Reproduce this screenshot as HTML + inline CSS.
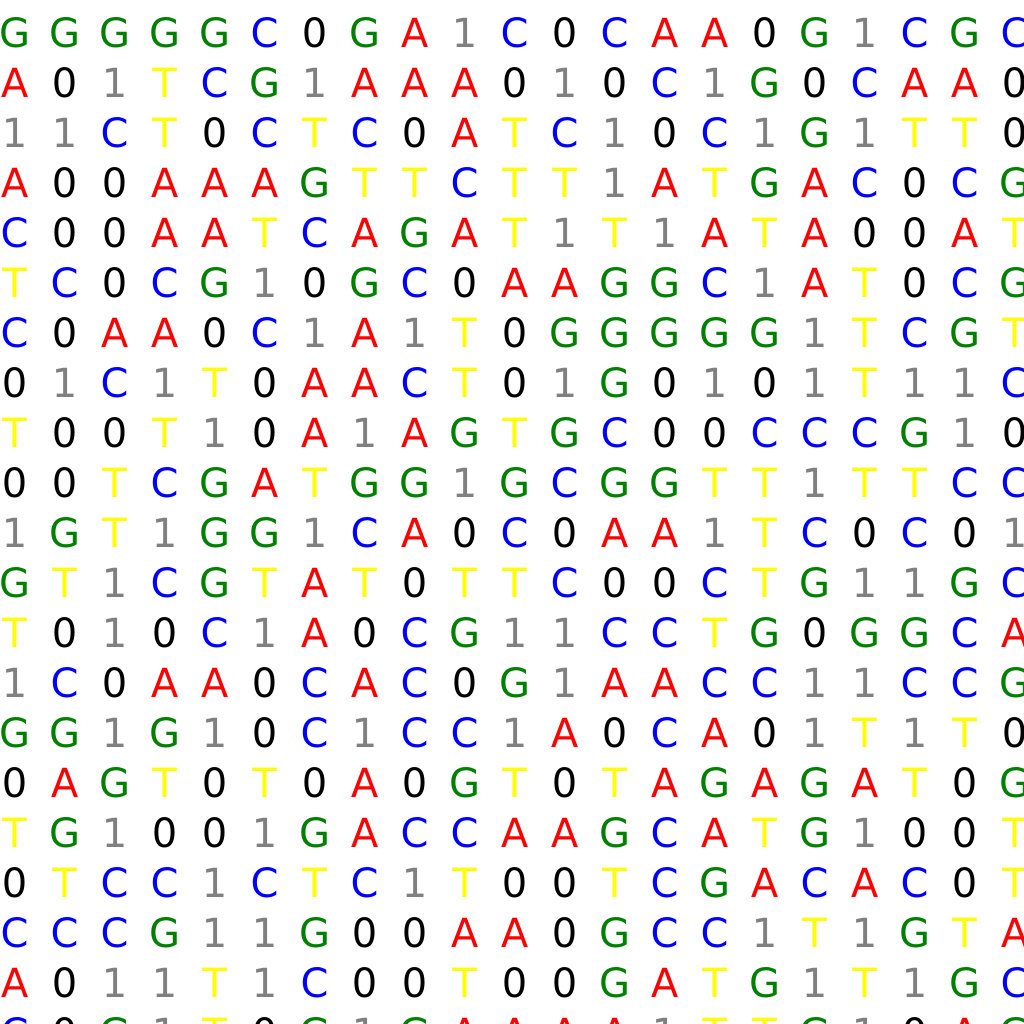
<!DOCTYPE html>
<html><head><meta charset="utf-8"><style>
html,body{margin:0;padding:0;background:#fff;width:1024px;height:1024px;overflow:hidden}
svg text{font-family:"DejaVu Sans","Liberation Sans",sans-serif;font-size:40px}
</style></head><body>
<svg id="grid" width="1024" height="1024" viewBox="0 0 1024 1024" xmlns="http://www.w3.org/2000/svg"></svg>
<script>
const rows = [
"GGGGGC0GA1C0CAA0G1CGC",
"A01TCG1AAA010C1G0CAA0",
"11CT0CTC0ATC10C1G1TT0",
"A00AAAGTTCTT1ATGAC0CG",
"C00AATCAGAT1T1ATA00AT",
"TC0CG10GC0AAGGC1AT0CG",
"C0AA0C1A1T0GGGGG1TCGT",
"01C1T0AACT01G0101T11C",
"T00T10A1AGTGC00CCCG10",
"00TCGATGG1GCGGTT1TTCC",
"1GT1GG1CA0C0AA1TC0C01",
"GT1CGTAT0TTC00CTG11GC",
"T010C1A0CG11CCTG0GGCA",
"1C0AA0CAC0G1AACC11CCG",
"GG1G10C1CC1A0CA01T1T0",
"0AGT0T0A0GT0TAGAGAT0G",
"TG1001GACCAAGCATG100T",
"0TCC1CTC1T00TCGACAC0T",
"CCCG11G00AA0GCC1T1GTA",
"A011T1C00T00GATG1T1GC",
"C0G1T0G1GAAAA1TTG10AG"
];
const colors = {G:"#008000",C:"#0000ff",A:"#ff0000",T:"#ffff00","1":"#808080","0":"#000000"};
const svg = document.getElementById('grid');
const NS = "http://www.w3.org/2000/svg";
const x0 = 14.5, y0 = 47, step = 50;
rows.forEach((row, r) => {
  for (let c = 0; c < row.length; c++) {
    const ch = row[c];
    const t = document.createElementNS(NS, 'text');
    t.setAttribute('x', x0 + c * step);
    t.setAttribute('y', y0 + r * step);
    t.setAttribute('text-anchor', 'middle');
    t.setAttribute('fill', colors[ch]);
    
    
    t.textContent = ch;
    svg.appendChild(t);
  }
});
</script>
</body></html>
